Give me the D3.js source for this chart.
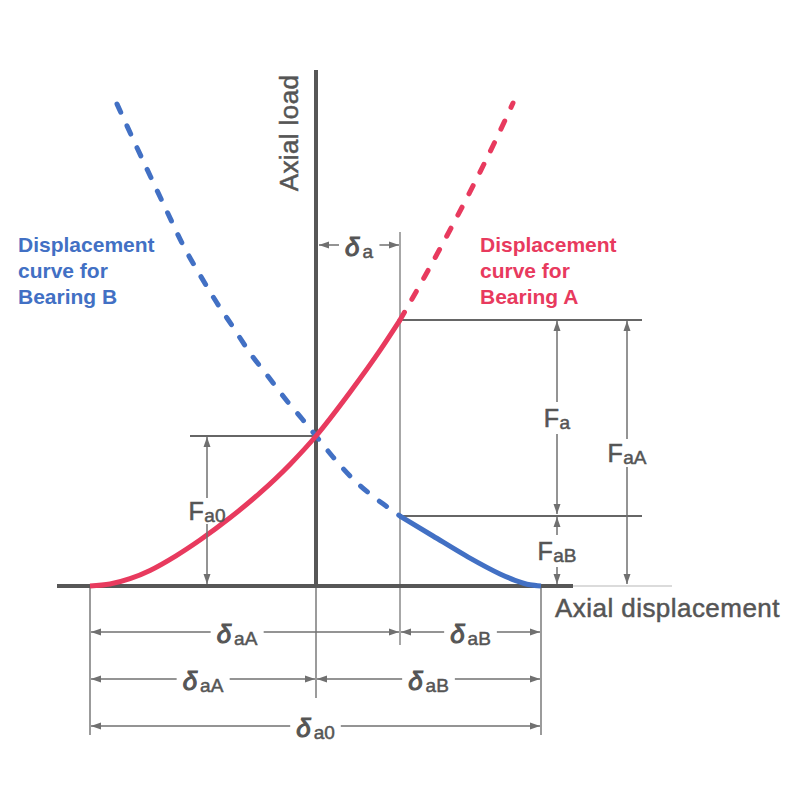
<!DOCTYPE html>
<html><head><meta charset="utf-8">
<script src="https://cdn.jsdelivr.net/npm/d3@7"></script>
<style>body{margin:0;background:#fff}svg{display:block}</style>
</head><body><svg id="c" width="800" height="800"></svg>
<script>
// ---- Data (displacement units, load units) ----
const bearingA_solid_disp = [0, 2, 4, 6, 8.6, 11, 14, 17, 20, 22.6, 26, 29, 31];
const bearingA_solid_load = [0, 0.2, 0.73, 1.56, 3.02, 4.6, 6.82, 9.31, 12.16, 15.0, 19.38, 23.56, 26.6];
const bearingA_dash_disp  = [31.0, 33.5, 36.0, 38.5, 41.0, 42.3];
const bearingA_dash_load  = [26.6, 31.0, 35.6, 40.4, 45.5, 48.3];
const bearingB_solid_disp = [31.0, 34.3, 37.7, 41.0, 42.5, 44.0, 45.1];
const bearingB_solid_load = [7.0, 5.0, 2.96, 1.21, 0.57, 0.12, 0];
const bearingB_dash_disp  = [2.7, 4.3, 6.0, 7.7, 9.3, 11.0, 12.7, 14.3, 16.0, 17.7, 19.7, 21.3, 22.6, 24.3, 26.3, 28.0, 29.6, 31.0];
const bearingB_dash_load  = [48.2, 44.7, 41.05, 37.45, 34.1, 31.1, 28.3, 25.9, 23.3, 21.1, 18.5, 16.6, 15.0, 12.9, 10.7, 9.2, 8.0, 7.0];
// key displacements: origin of A, load axis, operating point, origin of B
const dispKeys = [0, 22.6, 31.0, 45.1];
// key loads: Fa0, FaA, FaB
const loadKeys = [15.0, 26.6, 7.0];
const axisDispRange = [-3.3, 48.3];
const axisLoadMax = 51.6;

const legendA = ["Displacement", "curve for", "Bearing A"];
const legendB = ["Displacement", "curve for", "Bearing B"];

// ---- Setup ----
const svg = d3.select("#c");
const x = d3.scaleLinear().domain([0, 45.1]).range([90, 541]);
const y = d3.scaleLinear().domain([0, 50]).range([586, 86]);
const FONT = "'Liberation Sans', Arial, Helvetica, sans-serif";
const GRAY = "#555555", LINE = "#707070", RED = "#E83A5E", BLUE = "#4270C4";

const [dA0, dAxis, dOp, dB0] = dispKeys;
const [Fa0, FaA, FaB] = loadKeys;

function vline(px, y1, y2, col, w) {
  svg.append("line").attr("x1", px).attr("x2", px).attr("y1", y1).attr("y2", y2)
    .attr("stroke", col).attr("stroke-width", w);
}
function hline(py, x1, x2, col, w) {
  svg.append("line").attr("x1", x1).attr("x2", x2).attr("y1", py).attr("y2", py)
    .attr("stroke", col).attr("stroke-width", w);
}
// extension / reference lines
vline(x(dA0), y(0), 735, "#7a7a7a", 1.5);
vline(x(dAxis), y(0), 698, "#7a7a7a", 1.5);
vline(x(dOp), 232, 645, "#8a8a8a", 1.5);
vline(x(dB0), y(0), 735, "#7a7a7a", 1.5);
hline(y(Fa0), 190, x(dAxis), "#666", 2);
hline(y(FaA), x(dOp), 642, "#666", 2);
hline(y(FaB), x(dOp), 642, "#666", 2);

// axes
hline(y(0), x(axisDispRange[1]), 672, "#cfcfcf", 1.5);
hline(y(0), x(axisDispRange[0]), x(axisDispRange[1]), "#575757", 4);
vline(x(dAxis), y(0) + 2, y(axisLoadMax), "#575757", 4);

// curves
const line = d3.line().x(d => x(d[0])).y(d => y(d[1])).curve(d3.curveMonotoneX);
const zip = (a, b) => a.map((v, i) => [v, b[i]]);
function curve(dx, dy, col, dashed) {
  const p = svg.append("path").attr("d", line(zip(dx, dy))).attr("fill", "none")
    .attr("stroke", col).attr("stroke-width", 5).attr("stroke-linecap", dashed ? "round" : "butt");
  if (dashed) p.attr("stroke-dasharray", "9,15");
}
curve(bearingB_dash_disp, bearingB_dash_load, BLUE, true);
curve(bearingB_solid_disp, bearingB_solid_load, BLUE, false);
curve(bearingA_dash_disp, bearingA_dash_load, RED, true);
curve(bearingA_solid_disp, bearingA_solid_load, RED, false);

// arrows
function head(px, py, dir) {
  const L = 10, w = 3.5;
  let pts;
  if (dir === "left") pts = [[px, py], [px + L, py - w], [px + L, py + w]];
  if (dir === "right") pts = [[px, py], [px - L, py - w], [px - L, py + w]];
  if (dir === "up") pts = [[px, py], [px - w, py + L], [px + w, py + L]];
  if (dir === "down") pts = [[px, py], [px - w, py - L], [px + w, py - L]];
  svg.append("path").attr("d", "M" + pts.join("L") + "Z").attr("fill", LINE);
}
function label(main, sub, italic, px, py, anchor, mainSize, subSize) {
  const t = svg.append("text").attr("x", px).attr("y", py).attr("text-anchor", anchor || "middle")
    .attr("font-family", FONT).attr("fill", GRAY).attr("stroke", GRAY);
  t.append("tspan").text(main).attr("font-size", mainSize)
    .attr("font-style", italic ? "italic" : "normal").attr("stroke-width", italic ? 1.1 : 0.6);
  t.append("tspan").text(sub).attr("font-size", subSize).attr("stroke-width", 0.5)
    .attr("dx", italic ? 3 : 0.5).attr("dy", 2);
  return t;
}
function dimH(py, x1, x2, main, sub, cxOff) {
  const cx = (x1 + x2) / 2 + (cxOff || 0);
  const t = label(main, sub, true, cx, py + 11, "middle", 26, 19);
  const bb = t.node().getBBox();
  const pad = 6;
  hline(py, x1 + 1, bb.x - pad, LINE, 1.5);
  hline(py, bb.x + bb.width + pad, x2 - 1, LINE, 1.5);
  head(x1 + 1, py, "left");
  head(x2 - 1, py, "right");
}
function dimV(px, y1, y2, main, sub, half) {
  const cy = (y1 + y2) / 2;
  label(main, sub, false, px, cy + 9, "middle", 25, 19);
  vline(px, y1 + 1, cy - half, LINE, 1.5);
  vline(px, cy + half, y2 - 2, LINE, 1.5);
  head(px, y1 + 1, "up");
  head(px, y2 - 2, "down");
}

dimH(245, x(dAxis) + 2, x(dOp), "δ", "a", 0);
dimH(632, x(dA0), x(dOp), "δ", "aA", -8);
dimH(632, x(dOp), x(dB0), "δ", "aB", 0);
dimH(679, x(dA0), x(dAxis), "δ", "aA", 0);
dimH(679, x(dAxis), x(dB0), "δ", "aB", 0);
dimH(726, x(dA0), x(dB0), "δ", "a0", 0);

dimV(207, y(Fa0), y(0), "F", "a0", 13);
dimV(557, y(FaA), y(FaB), "F", "a", 16);
dimV(557, y(FaB), y(0), "F", "aB", 16);
dimV(627, y(FaA), y(0), "F", "aA", 14);

// axis titles
svg.append("text").attr("transform", `translate(298,${133}) rotate(-90)`).attr("text-anchor", "middle")
  .attr("font-family", FONT).attr("font-size", 26).attr("letter-spacing", 0.4)
  .attr("fill", GRAY).attr("stroke", GRAY).attr("stroke-width", 0.5).text("Axial load");
svg.append("text").attr("x", 555).attr("y", 617).attr("font-family", FONT).attr("font-size", 26)
  .attr("letter-spacing", 0.45).attr("fill", GRAY).attr("stroke", GRAY).attr("stroke-width", 0.5)
  .text("Axial displacement");

// legends
function legend(lines, px, col) {
  lines.forEach((s, i) => svg.append("text").attr("x", px).attr("y", 252 + i * 26)
    .attr("font-family", FONT).attr("font-size", 21).attr("font-weight", "bold")
    .attr("fill", col).text(s));
}
legend(legendB, 18, BLUE);
legend(legendA, 480, RED);
</script></body></html>
